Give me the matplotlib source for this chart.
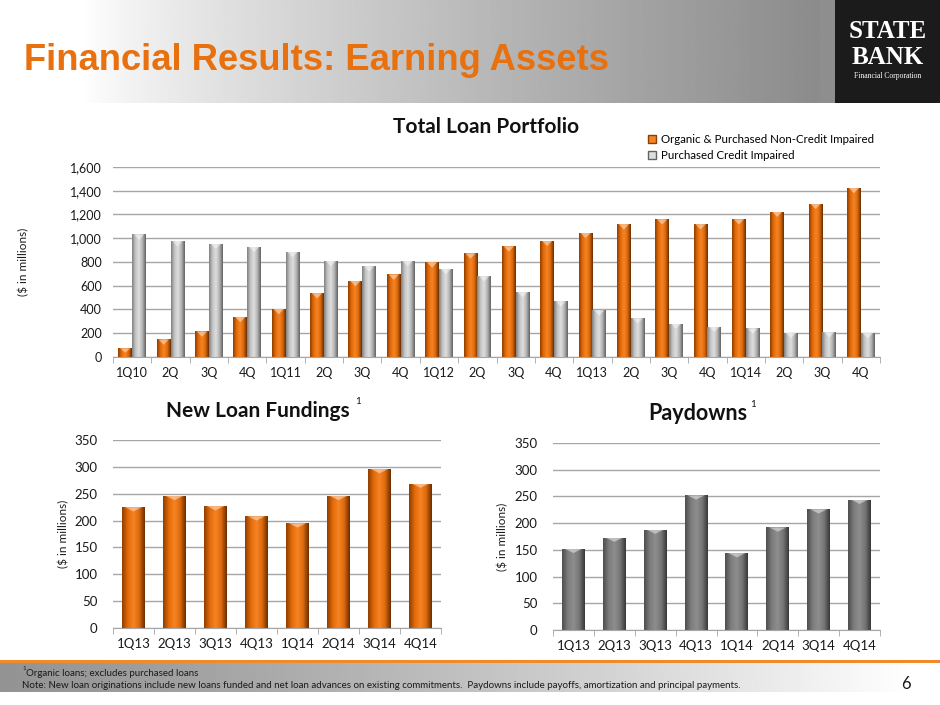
import numpy as np
import matplotlib
matplotlib.use("Agg")
import matplotlib.pyplot as plt
from matplotlib.patches import Patch, Rectangle, Polygon
from matplotlib.colors import to_rgb

plt.rcParams['font.family'] = ['Lato', 'DejaVu Sans']

# ---- data ----
loan_quarters = ['1Q10', '2Q', '3Q', '4Q', '1Q11', '2Q', '3Q', '4Q', '1Q12', '2Q',
                 '3Q', '4Q', '1Q13', '2Q', '3Q', '4Q', '1Q14', '2Q', '3Q', '4Q']
organic = [73, 148, 215, 338, 404, 538, 641, 695, 798, 873,
           932, 979, 1046, 1119, 1160, 1119, 1160, 1225, 1291, 1425]
pci = [1032, 976, 954, 929, 884, 809, 764, 809, 742, 681,
       547, 469, 393, 326, 282, 254, 240, 204, 209, 201]

recent_quarters = ['1Q13', '2Q13', '3Q13', '4Q13', '1Q14', '2Q14', '3Q14', '4Q14']
fundings = [225, 246, 227, 208, 195, 246, 296, 269]
paydowns = [152, 173, 188, 252, 144, 192, 226, 244]

ORANGE = ['#8f3e00', '#e36a08', '#f68424', '#dd6a0c', '#6a2e00']
LIGHT_GRAY = ['#808080', '#c4c4c4', '#dedede', '#b4b4b4', '#626262']
DARK_GRAY = ['#4e4e4e', '#7c7c7c', '#8e8e8e', '#767676', '#383838']
GRID = '#a6a6a6'
TXT = '#1a1a1a'

W, H = 940, 705


def fig_rect(left, top, right, bottom):
    return [left / W, 1 - bottom / H, (right - left) / W, (bottom - top) / H]


def gradient(stops, n=64):
    pos = np.linspace(0, 1, len(stops))
    rgb = np.array([to_rgb(c) for c in stops])
    t = np.linspace(0, 1, n)
    g = np.stack([np.interp(t, pos, rgb[:, k]) for k in range(3)], axis=-1)
    return g[np.newaxis, :, :]


def shaded_bars(ax, x, vals, width, stops, cap):
    bars = ax.bar(x, vals, width, color=stops[2], zorder=2, linewidth=0)
    grad = gradient(stops)
    for b in bars:
        x0, w, h = b.get_x(), b.get_width(), b.get_height()
        im = ax.imshow(grad, extent=(x0, x0 + w, 0, h), aspect='auto',
                       zorder=3, interpolation='bilinear')
        im.set_clip_path(b)
        c = min(cap, h * 0.5)
        ax.add_patch(Polygon([(x0 + w * 0.12, h), (x0 + w * 0.88, h), (x0 + w * 0.5, h - c)],
                             closed=True, color='white', alpha=0.45, lw=0, zorder=4))
    return bars


def style_axes(ax, ymax, ystep, ncat, fontsize, ypad):
    ax.set_xlim(-0.5, ncat - 0.5)
    ax.set_ylim(0, ymax)
    ax.set_yticks(np.arange(0, ymax + 1, ystep))
    ax.grid(axis='y', color=GRID, lw=1, zorder=0)
    ax.set_axisbelow(True)
    for s in ['left', 'right', 'top']:
        ax.spines[s].set_visible(False)
    ax.spines['bottom'].set_color(GRID)
    ax.spines['bottom'].set_zorder(5)
    ax.set_xticks(np.arange(-0.5, ncat, 1.0), minor=True)
    ax.tick_params(axis='x', which='minor', length=4, color=GRID)
    ax.tick_params(axis='x', which='major', length=0, pad=7, labelsize=fontsize, labelcolor=TXT)
    ax.tick_params(axis='y', length=0, pad=ypad, labelsize=fontsize, labelcolor=TXT)


fig = plt.figure(figsize=(9.4, 7.05), dpi=100)

# ---- slide background ----
bg = fig.add_axes([0, 0, 1, 1])
bg.set_xlim(0, W)
bg.set_ylim(H, 0)
bg.axis('off')
hx = np.linspace(0, 1, 400)
hv = np.clip((hx - 0.1) / 0.9, 0, 1)
hv = 1 - 0.46 * hv ** 0.8
bg.imshow(np.tile(hv, (2, 1)), cmap='gray', vmin=0, vmax=1, extent=(0, 835, 103, 0),
          aspect='auto', interpolation='bilinear')
bg.add_patch(Rectangle((820, 0), 15, 103, color='#8e8e8e', lw=0))
bg.add_patch(Rectangle((835, 0), 105, 103, color='#1b1b1b', lw=0))
bg.text(888, 32, 'STATE', family=['Liberation Serif'], weight='bold', color='white',
        fontsize=18, ha='center', va='center')
bg.text(888, 57, 'BANK', family=['Liberation Serif'], weight='bold', color='white',
        fontsize=18, ha='center', va='center')
bg.text(888, 76, 'Financial Corporation', family=['Liberation Serif'], color='white',
        fontsize=5.5, ha='center', va='center')
bg.text(24, 70, 'Financial Results: Earning Assets', family=['Liberation Sans'],
        weight='bold', color='#e8700e', fontsize=26.2, ha='left', va='baseline')

fx = np.linspace(0, 1, 400)
fv = 0.58 + 0.42 * np.clip(fx / 0.97, 0, 1) ** 1.3
bg.imshow(np.tile(fv, (2, 1)), cmap='gray', vmin=0, vmax=1, extent=(0, W, 692, 663),
          aspect='auto', interpolation='bilinear')
bg.add_patch(Rectangle((0, 660), W, 3, color='#f08a2a', lw=0))
bg.text(22, 669, '1', fontsize=4.5, color=TXT, va='center')
bg.text(26, 673, 'Organic loans; excludes purchased loans', fontsize=7,
        color=TXT, va='center')
bg.text(22, 686, 'Note: New loan originations include new loans funded and net loan advances on '
        'existing commitments.  Paydowns include payoffs, amortization and principal payments.',
        fontsize=7, color=TXT, va='center')
bg.text(906, 684, '6', fontsize=12, color=TXT, ha='center', va='center')

# ---- total loan portfolio ----
ax1 = fig.add_axes(fig_rect(113, 167, 880, 357))
n1 = len(loan_quarters)
x1 = np.arange(n1)
bw = 0.36
shaded_bars(ax1, x1 - bw / 2, organic, bw, ORANGE, 45)
shaded_bars(ax1, x1 + bw / 2, pci, bw, LIGHT_GRAY, 45)
style_axes(ax1, 1600, 200, n1, 9, 8)
ax1.set_xticks(x1)
ax1.set_xticklabels(loan_quarters)
ax1.yaxis.set_major_formatter(matplotlib.ticker.StrMethodFormatter('{x:,.0f}'))
ax1.set_ylabel('($ in millions)', fontsize=8.5, color=TXT)
ax1.yaxis.set_label_coords(-0.109, 0.5)
fig.text(486 / W, 1 - 127 / H, 'Total Loan Portfolio', fontsize=15, weight='bold',
         ha='center', va='center', color='#111111')
handles = [Patch(facecolor=ORANGE[2], edgecolor=ORANGE[0]),
           Patch(facecolor=LIGHT_GRAY[2], edgecolor=LIGHT_GRAY[4])]
ax1.legend(handles, ['Organic & Purchased Non-Credit Impaired', 'Purchased Credit Impaired'],
           loc='upper left', bbox_to_anchor=(648 / W, 1 - 134 / H), bbox_transform=fig.transFigure,
           frameon=False, handlelength=0.7, handleheight=0.7, handletextpad=0.4,
           labelspacing=0.4, fontsize=8.3, borderpad=0, borderaxespad=0)

# ---- new loan fundings ----
ax2 = fig.add_axes(fig_rect(113, 440, 441, 628))
n2 = len(recent_quarters)
x2 = np.arange(n2)
shaded_bars(ax2, x2, fundings, 0.56, ORANGE, 8)
style_axes(ax2, 350, 50, n2, 9.5, 11)
ax2.set_xticks(x2)
ax2.set_xticklabels(recent_quarters)
ax2.set_ylabel('($ in millions)', fontsize=8.5, color=TXT)
ax2.yaxis.set_label_coords(-0.134, 0.5)
fig.text(258 / W, 1 - 411 / H, 'New Loan Fundings', fontsize=15, weight='bold',
         ha='center', va='center', color='#111111')
fig.text(355 / W, 1 - 401 / H, '1', fontsize=7, ha='left', va='center', color='#111111')

# ---- paydowns ----
ax3 = fig.add_axes(fig_rect(553, 443, 880, 630))
shaded_bars(ax3, x2, paydowns, 0.56, DARK_GRAY, 8)
style_axes(ax3, 350, 50, n2, 9.5, 11)
ax3.set_xticks(x2)
ax3.set_xticklabels(recent_quarters)
ax3.set_ylabel('($ in millions)', fontsize=8.5, color=TXT)
ax3.yaxis.set_label_coords(-0.138, 0.5)
fig.text(698 / W, 1 - 414 / H, 'Paydowns', fontsize=15.5, weight='bold',
         ha='center', va='center', color='#111111')
fig.text(750 / W, 1 - 404 / H, '1', fontsize=7, ha='left', va='center', color='#111111')

fig.savefig('out.png', dpi=100)
